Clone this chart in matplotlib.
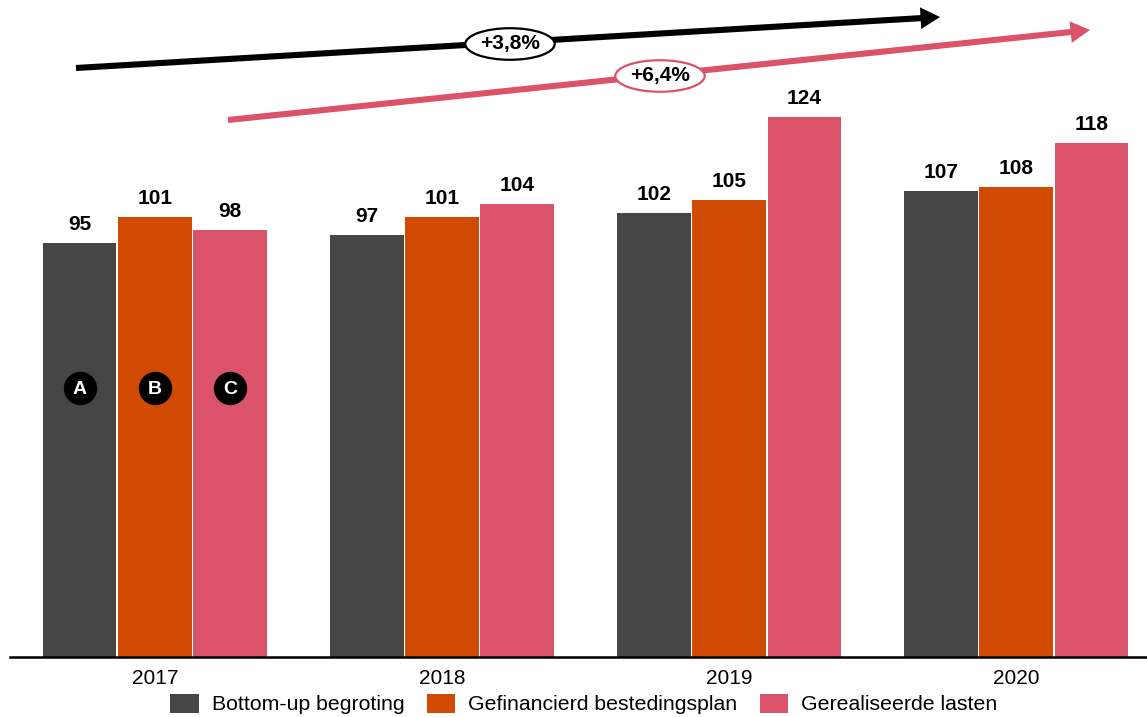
import matplotlib
matplotlib.use("Agg")
import matplotlib.pyplot as plt
import numpy as np

years = ["2017", "2018", "2019", "2020"]
series_names = ["Bottom-up begroting", "Gefinancierd bestedingsplan", "Gerealiseerde lasten"]
bottom_up = [95, 97, 102, 107]
gefinancierd = [101, 101, 105, 108]
gerealiseerd = [98, 104, 124, 118]
markers = ["A", "B", "C"]
growth_labels = ["+3,8%", "+6,4%"]

colors = ["#464646", "#D04A02", "#DB536A"]

plt.rcParams['font.family'] = ['Liberation Sans', 'DejaVu Sans']

fig = plt.figure(figsize=(11.47, 7.17), dpi=100)
ax = fig.add_axes([0.0087, 0.0837, 0.9913, 0.9163])

x = np.arange(len(years))
w = 0.262
offsets = [-w, 0, w]
all_series = [bottom_up, gefinancierd, gerealiseerd]
for vals, off, c, name in zip(all_series, offsets, colors, series_names):
    bars = ax.bar(x + off, vals, width=w - 0.006, color=c, label=name)
    for b, v in zip(bars, vals):
        ax.annotate(str(v), (b.get_x() + b.get_width() / 2, v), xytext=(0, 6.5),
                    textcoords="offset points", ha="center", va="bottom",
                    fontsize=15, fontweight="bold", color="#000000")

ax.set_xlim(-0.505, 3.456)
ax.set_ylim(0, 150.9)
ax.set_xticks(x)
ax.set_xticklabels(years, fontsize=15)
ax.tick_params(axis='x', length=0, pad=9)
ax.set_yticks([])
for s in ["top", "right", "left"]:
    ax.spines[s].set_visible(False)
ax.spines["bottom"].set_linewidth(1.8)

# A, B, C markers
for off, m in zip(offsets, markers):
    ax.plot(x[0] + off, 61.8, 'o', color="black", markersize=23, zorder=5)
    ax.text(x[0] + off, 61.8, m, color="white", fontsize=14, fontweight="bold",
            ha="center", va="center_baseline", zorder=6)

# growth arrows (figure coords)
def fx(px):
    return px / 1147
def fy(py):
    return 1 - py / 717

arrows = [((76, 68), (940, 17), "black"), ((228, 120), (1090, 30), "#DB536A")]
for (t, h, c) in arrows:
    fig.add_artist(matplotlib.patches.FancyArrowPatch(
        (fx(t[0]), fy(t[1])), (fx(h[0]), fy(h[1])), transform=fig.transFigure,
        arrowstyle="simple,head_length=0.7,head_width=0.78,tail_width=0.22",
        mutation_scale=20, color=c, lw=0, shrinkA=0, shrinkB=0))

fig.text(fx(510), fy(44), growth_labels[0], ha="center", va="center", fontsize=15,
         fontweight="bold", bbox=dict(boxstyle="ellipse,pad=0.08", fc="white", ec="black", lw=1.6))
fig.text(fx(660), fy(76), growth_labels[1], ha="center", va="center", fontsize=15,
         fontweight="bold", bbox=dict(boxstyle="ellipse,pad=0.08", fc="white", ec="#DB536A", lw=1.6))

fig.legend(loc="lower center", bbox_to_anchor=(0.509, -0.014), ncol=3, frameon=False,
           fontsize=15.3, handlelength=1.35, handleheight=1.0, columnspacing=1.05,
           handletextpad=0.6, borderaxespad=0.2)

fig.savefig("out.png", dpi=100)
